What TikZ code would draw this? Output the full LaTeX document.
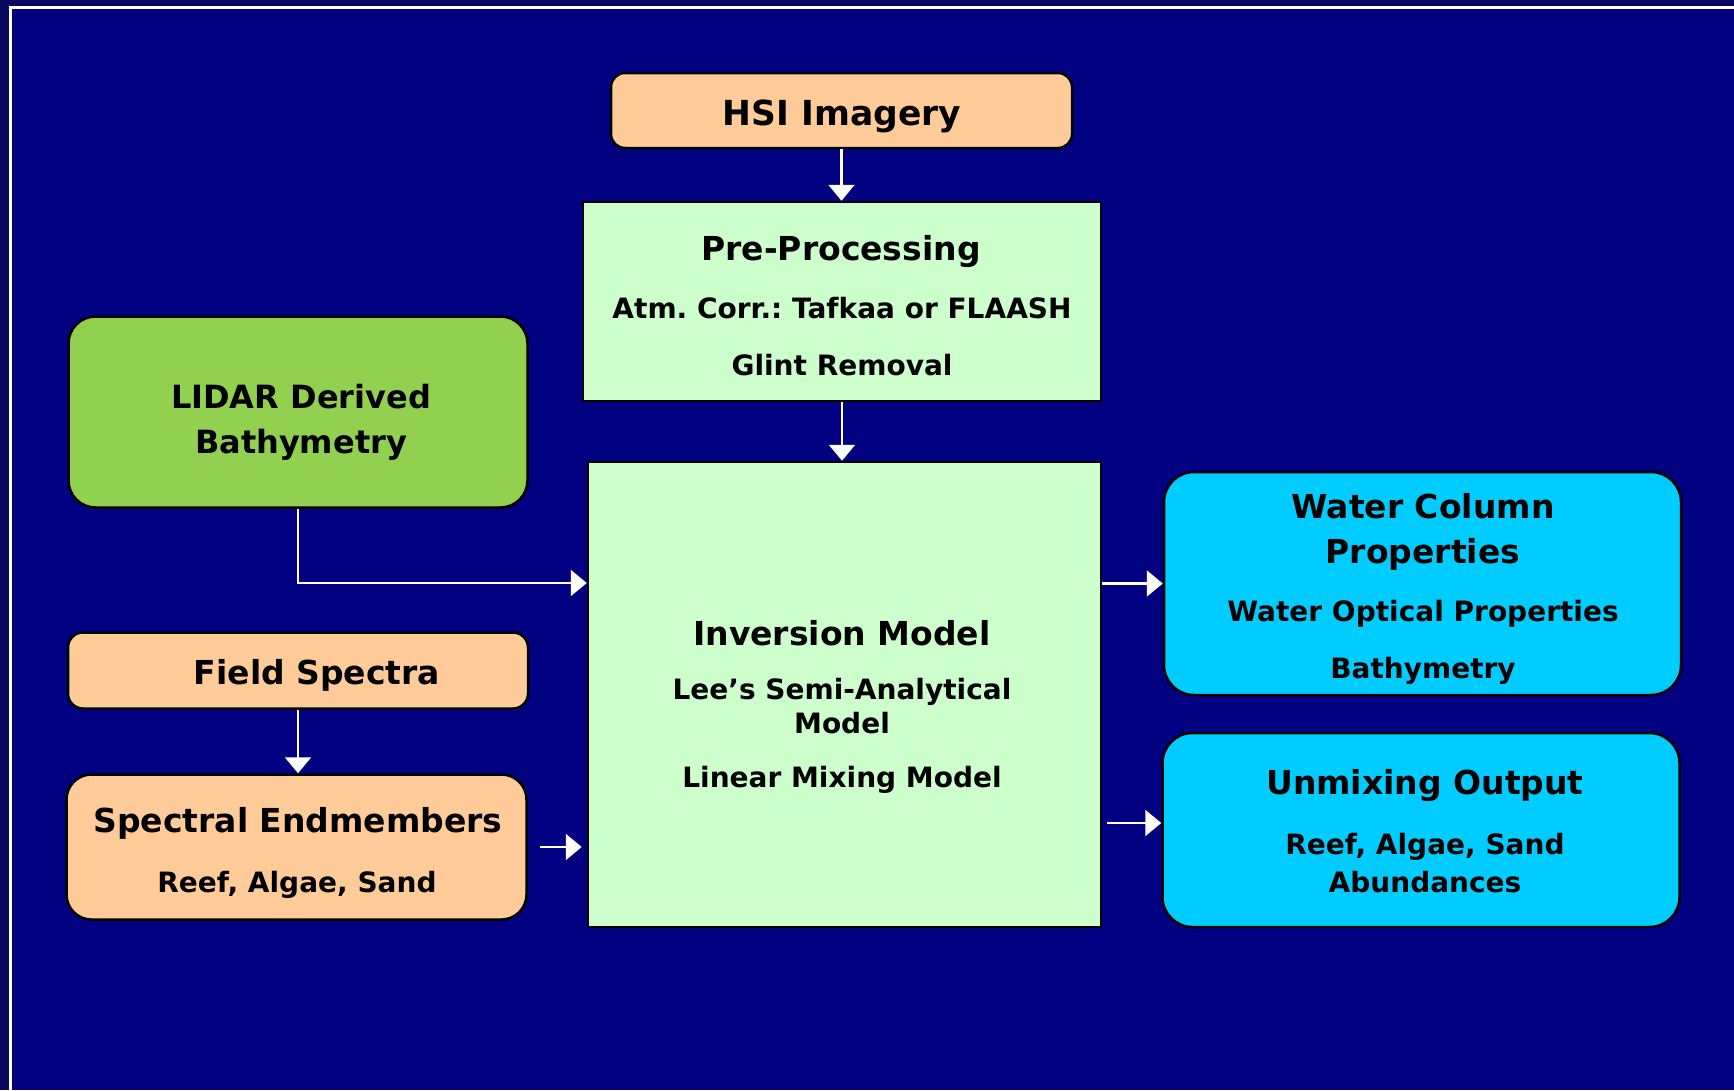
\documentclass[tikz,border=0pt]{standalone}
\usepackage{fontspec}
\setmainfont{DejaVu Sans}
\usepackage{tikz}
\usetikzlibrary{positioning,calc,arrows.meta}
\definecolor{SlideNavy}{RGB}{0,0,128}
\definecolor{SlideEdge}{RGB}{8,8,92}
\definecolor{BoxPeach}{RGB}{255,204,153}
\definecolor{BoxMint}{RGB}{204,255,204}
\definecolor{BoxCyan}{RGB}{0,204,255}
\definecolor{BoxLime}{RGB}{146,208,80}
\frenchspacing

\tikzset{
  box/.style={draw=black, line width=2.5pt, inner sep=0pt},
  titletext/.style={font=\fontsize{33}{38}\selectfont\bfseries, anchor=base, inner sep=0pt},
  subtext/.style={font=\fontsize{28}{32}\selectfont\bfseries, anchor=base, inner sep=0pt},
  flow/.style={draw=white, line width=2.2pt, -{Triangle[width=26pt,length=16pt]}}
}

\begin{document}
\begin{tikzpicture}[x=1pt, y=-1pt]
    \useasboundingbox (0,0) rectangle (1734,1090);
    % slide background
    \fill[SlideEdge] (0,0) rectangle (1734,1090);
    \fill[SlideNavy] (10,7) rectangle (1734,1090);
    \draw[white, line width=2.5pt] (10.5,1090) -- (10.5,7.5) -- (1734,7.5);

    % boxes
    \node[box, fill=BoxPeach, rounded corners=14pt, minimum width=461pt, minimum height=75pt] (hsi) at (841.5,110.5) {};
    \node[box, fill=BoxMint, minimum width=518pt, minimum height=199pt] (pre) at (842,301.5) {};
    \node[box, fill=BoxMint, minimum width=513pt, minimum height=465pt] (inv) at (844.5,694.5) {};
    \node[box, fill=BoxLime, rounded corners=27pt, minimum width=459pt, minimum height=191pt] (lidar) at (298,412) {};
    \node[box, fill=BoxPeach, rounded corners=15pt, minimum width=460pt, minimum height=76pt] (field) at (298,670.5) {};
    \node[box, fill=BoxPeach, rounded corners=25pt, minimum width=460pt, minimum height=145pt] (endm) at (296.5,847) {};
    \node[box, fill=BoxCyan, rounded corners=30pt, minimum width=517pt, minimum height=223pt] (water) at (1422.5,583.5) {};
    \node[box, fill=BoxCyan, rounded corners=30pt, minimum width=517pt, minimum height=194pt] (unmix) at (1421,830) {};

    % texts
    \node[titletext, font=\fontsize{34.5}{40}\selectfont\bfseries] (hsiT) at (842,125) {HSI Imagery};
    \node[titletext] (preT) at (841,260) {Pre-Processing};
    \node[subtext] (preA) at (842,318) {Atm. Corr.: Tafkaa or FLAASH};
    \node[subtext] (preB) at (842,375) {Glint Removal};
    \node[titletext, font=\fontsize{32}{36}\selectfont\bfseries] (lidarA) at (301,408) {LIDAR Derived};
    \node[titletext, font=\fontsize{32}{36}\selectfont\bfseries] (lidarB) at (301,453) {Bathymetry};
    \node[titletext] (fieldT) at (317,684) {Field Spectra};
    \node[titletext] (endmT) at (298,832) {Spectral Endmembers};
    \node[subtext] (endmA) at (297,892) {Reef, Algae, Sand};
    \node[titletext] (invT) at (842,645) {Inversion Model};
    \node[subtext] (invA) at (842,699) {Lee’s Semi-Analytical};
    \node[subtext] (invB) at (842,733) {Model};
    \node[subtext] (invC) at (842,787) {Linear Mixing Model};
    \node[titletext] (waterT) at (1423,518) {Water Column};
    \node[titletext] (waterU) at (1423,563) {Properties};
    \node[subtext] (waterA) at (1423,621) {Water Optical Properties};
    \node[subtext] (waterB) at (1423,678) {Bathymetry};
    \node[titletext] (unmixT) at (1425,794) {Unmixing Output};
    \node[subtext] (unmixA) at (1425,854) {Reef, Algae, Sand};
    \node[subtext] (unmixB) at (1425,892) {Abundances};

    % connectors
    \coordinate (lidarlvl) at (0,583);
    \coordinate (unmixlvl) at (0,823);
    \draw[flow] (hsi.south) -- (hsi.south |- pre.north);
    \draw[flow] (pre.south) -- (pre.south |- inv.north);
    \draw[flow] (lidar.south) |- (inv.west |- lidarlvl);
    \draw[flow] (field.south) -- (field.south |- endm.north);
    \draw[flow] ([xshift=12pt]endm.east) -- ([xshift=-5pt]inv.west |- endm.east);
    \draw[flow] (inv.east |- water.west) -- (water.west);
    \draw[flow] ([xshift=5pt]inv.east |- unmixlvl) -- (unmix.west |- unmixlvl);
\end{tikzpicture}
\end{document}
